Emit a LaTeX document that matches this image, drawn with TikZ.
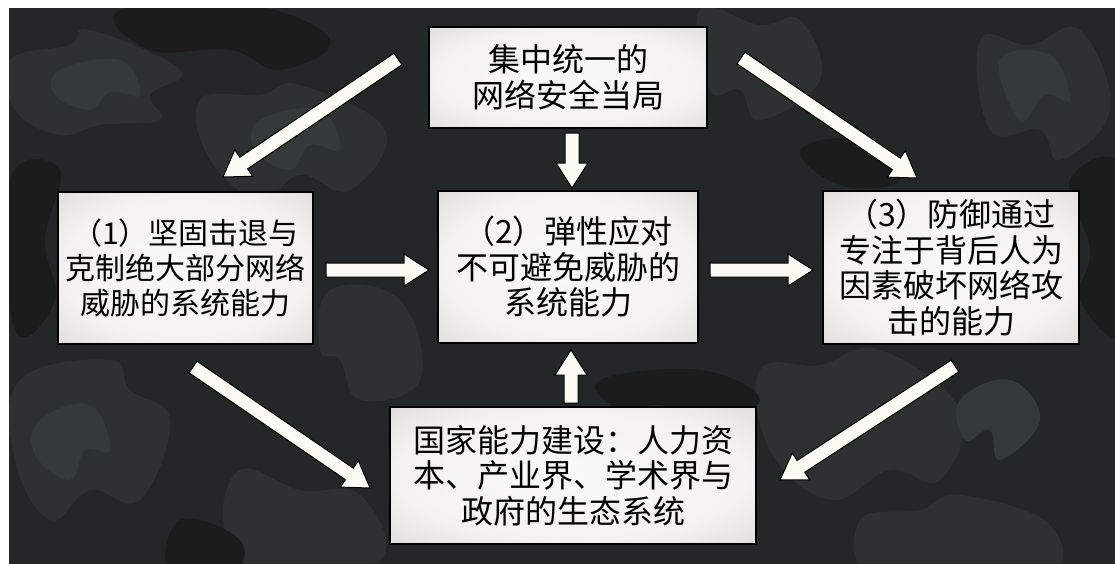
\documentclass[tikz,border=0pt]{standalone}
\usepackage{fontspec}
\newfontfamily\cjkfont{Noto Sans CJK SC}
\usetikzlibrary{calc}
\definecolor{bgdark}{HTML}{242727}
\definecolor{blobA}{HTML}{2D3131}
\definecolor{blobB}{HTML}{1B1D1D}
\definecolor{blobC}{HTML}{343A39}
\definecolor{arrowfill}{HTML}{FCFCF4}
\definecolor{vigA}{HTML}{FAF9F9}
\definecolor{vigB}{HTML}{F3F1F1}
\definecolor{vigC}{HTML}{DEDADA}
\definecolor{vigD}{HTML}{C2BEBE}
\definecolor{vigE}{HTML}{9E9A9A}
\definecolor{vigF}{HTML}{8A8686}
\pgfdeclareradialshading{vignette}{\pgfpoint{0bp}{0bp}}{color(0bp)=(vigA); color(24bp)=(vigB); color(38bp)=(vigC); color(47bp)=(vigD); color(62bp)=(vigE); color(100bp)=(vigF)}
\tikzset{
  box/.style={draw=black, line width=1.8pt, shade, shading=vignette, inner sep=0pt,
    align=center, text=black, font={\fontsize{32pt}{35.5pt}\selectfont\cjkfont}},
  boxsmall/.style={box, font={\fontsize{30pt}{35pt}\selectfont\cjkfont}},
  fatarrowstyle/.style={draw=black, line width=1pt, fill=arrowfill, line join=miter},
  blob/.style={smooth cycle, tension=0.7}
}
\newcommand\fatarrow[2]{%
  \coordinate (#1-h) at ($(#2)!25pt!(#1)$);
  \draw[fatarrowstyle] ($(#1)!7pt!90:(#2)$) -- ($(#1-h)!7pt!90:(#2)$) -- ($(#1-h)!16pt!90:(#2)$) -- (#2) -- ($(#1-h)!16pt!-90:(#2)$) -- ($(#1-h)!7pt!-90:(#2)$) -- ($(#1)!7pt!-90:(#2)$) -- cycle;
}
\begin{document}
\begin{tikzpicture}[x=1pt,y=-1pt]
\useasboundingbox (0,0) rectangle (1115,563);
\fill[white] (0,0) rectangle (1115,563);
\fill[bgdark] (9,8) rectangle (1125,575);
\begin{scope}
\clip (9,8) rectangle (1125,575);
\fill[blobA] plot[blob] coordinates {(10,60) (70,45) (90,30) (180,70) (150,95) (160,120) (100,125) (60,135) (15,110)};
\fill[blobA] plot[blob] coordinates {(200,100) (260,95) (300,85) (385,130) (350,190) (300,175) (260,200) (210,160)};
\fill[blobA] plot[blob] coordinates {(20,380) (110,360) (130,390) (170,420) (140,500) (90,490) (50,520) (15,460)};
\fill[blobA] plot[blob] coordinates {(760,370) (820,365) (880,350) (960,410) (940,480) (890,470) (830,500) (770,450)};
\fill[blobA] plot[blob] coordinates {(980,40) (1030,45) (1080,30) (1110,110) (1060,160) (1040,130) (990,130)};
\fill[blobA] plot[blob] coordinates {(240,470) (300,490) (360,495) (380,560) (270,575) (225,530)};
\fill[blobA] plot[blob] coordinates {(860,520) (920,510) (960,495) (1050,525) (1040,580) (880,580)};
\fill[blobA] plot[blob] coordinates {(700,10) (760,25) (800,20) (820,80) (760,120) (740,90) (710,90)};
\fill[blobA] plot[blob] coordinates {(330,290) (400,300) (420,380) (360,400) (340,360) (320,350)};
\fill[blobC] plot[blob] coordinates {(60,70) (120,60) (140,95) (110,92) (90,110) (55,95)};
\fill[blobC] plot[blob] coordinates {(260,120) (320,110) (340,150) (310,145) (290,170) (255,150)};
\fill[blobC] plot[blob] coordinates {(1000,60) (1050,55) (1070,100) (1045,95) (1020,120)};
\fill[blobC] plot[blob] coordinates {(40,420) (90,405) (110,450) (85,450) (70,480) (35,455)};
\fill[blobC] plot[blob] coordinates {(960,400) (1010,380) (1040,420) (1000,460) (990,430) (965,440)};
\fill[blobB] plot[blob] coordinates {(120,10) (250,5) (330,40) (280,70) (230,50) (150,50)};
\fill[blobB] plot[blob] coordinates {(10,180) (60,170) (45,240) (55,300) (15,330)};
\fill[blobB] plot[blob] coordinates {(1070,180) (1125,170) (1125,330) (1080,300) (1090,250)};
\fill[blobB] plot[blob] coordinates {(600,380) (700,370) (760,400) (700,420) (660,405) (620,410)};
\fill[blobB] plot[blob] coordinates {(180,520) (240,540) (230,575) (170,575)};
\fill[blobB] plot[blob] coordinates {(800,150) (860,140) (900,180) (840,185)};
\end{scope}

\node[box, minimum width=278pt, minimum height=101pt] (top) at (568,77.5) {集中统一的\\网络安全当局};
\node[boxsmall, minimum width=255pt, minimum height=152pt] (left) at (185.5,268) {（1）坚固击退与\\克制绝大部分网络\\威胁的系统能力};
\node[box, minimum width=260pt, minimum height=152pt] (center) at (568,267) {（2）弹性应对\\不可避免威胁的\\系统能力};
\node[box, minimum width=256pt, minimum height=153pt] (right) at (951,267.5) {（3）防御通过\\专注于背后人为\\因素破坏网络攻\\击的能力};
\node[box, minimum width=366pt, minimum height=137pt] (bottom) at (573,475.5) {国家能力建设：人力资\\本、产业界、学术界与\\政府的生态系统};

\coordinate (a1s) at (398,59);   \coordinate (a1e) at (223,177);
\coordinate (a2s) at (572,133);  \coordinate (a2e) at (572,188);
\coordinate (a3s) at (741,58);   \coordinate (a3e) at (917,178);
\coordinate (a4s) at (326,270);  \coordinate (a4e) at (429,270);
\coordinate (a5s) at (710,270);  \coordinate (a5e) at (813,270);
\coordinate (a6s) at (571,403);  \coordinate (a6e) at (571,350);
\coordinate (a7s) at (193,367);  \coordinate (a7e) at (370,488);
\coordinate (a8s) at (955,366);  \coordinate (a8e) at (780,480);

\fatarrow{a1s}{a1e}
\fatarrow{a2s}{a2e}
\fatarrow{a3s}{a3e}
\fatarrow{a4s}{a4e}
\fatarrow{a5s}{a5e}
\fatarrow{a6s}{a6e}
\fatarrow{a7s}{a7e}
\fatarrow{a8s}{a8e}
\end{tikzpicture}
\end{document}
